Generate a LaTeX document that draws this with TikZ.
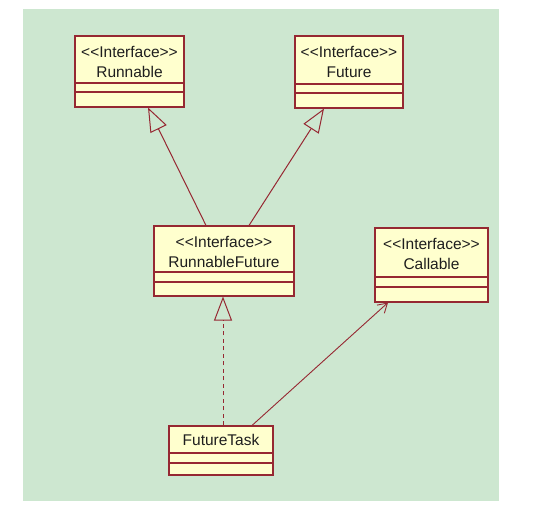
\documentclass[tikz,border=0pt]{standalone}
\usepackage{fontspec}
\setmainfont{Liberation Sans}
\usetikzlibrary{arrows.meta}
\definecolor{bggreen}{RGB}{205,231,208}
\definecolor{boxfill}{RGB}{255,255,206}
\definecolor{boxline}{RGB}{150,40,50}
\definecolor{txt}{RGB}{30,30,30}
\newcommand{\stereo}{{<}{<}Interface{>}{>}}
\tikzset{
  umlbox/.style={draw=boxline, fill=boxfill, line width=1.1pt, inner sep=0pt},
  divider/.style={draw=boxline, line width=1.1pt},
  lbl/.style={inner sep=0pt, text=txt, font=\fontsize{15.5}{18}\selectfont},
  realize/.style={draw=boxline, line width=1pt, -{Triangle[open, length=24pt, width=18pt, line width=1pt]}},
  depend/.style={draw=boxline, line width=0.9pt, -{Straight Barb[length=9pt, width=11pt, line width=0.9pt]}},
  dashline/.style={dash pattern=on 4pt off 3.5pt}
}
\begin{document}
\begin{tikzpicture}[x=1pt, y=-1pt]
\useasboundingbox (0,0) rectangle (540,515);
\fill[white] (0,0) rectangle (540,515);
\fill[bggreen] (23,9) rectangle (499,501);

% Runnable
\node[umlbox, minimum width=109pt, minimum height=71pt] (run) at (129.5,71.5) {};
\draw[divider] (run.west |- 0,83) -- (run.east |- 0,83);
\draw[divider] (run.west |- 0,92) -- (run.east |- 0,92);
\node[lbl] (runS) at (129.5,52) {\stereo};
\node[lbl] (runN) at (129.5,72) {Runnable};

% Future
\node[umlbox, minimum width=108pt, minimum height=72pt] (fut) at (349,72) {};
\draw[divider] (fut.west |- 0,84) -- (fut.east |- 0,84);
\draw[divider] (fut.west |- 0,93) -- (fut.east |- 0,93);
\node[lbl] (futS) at (349,52) {\stereo};
\node[lbl] (futN) at (349,72) {Future};

% RunnableFuture
\node[umlbox, minimum width=140pt, minimum height=70pt] (rf) at (224,261) {};
\draw[divider] (rf.west |- 0,272) -- (rf.east |- 0,272);
\draw[divider] (rf.west |- 0,282) -- (rf.east |- 0,282);
\node[lbl] (rfS) at (224,242) {\stereo};
\node[lbl] (rfN) at (224,262) {RunnableFuture};

% Callable
\node[umlbox, minimum width=113pt, minimum height=74pt] (call) at (431.5,265) {};
\draw[divider] (call.west |- 0,277) -- (call.east |- 0,277);
\draw[divider] (call.west |- 0,287) -- (call.east |- 0,287);
\node[lbl] (callS) at (431.5,244) {\stereo};
\node[lbl] (callN) at (431.5,264) {Callable};

% FutureTask
\node[umlbox, minimum width=104pt, minimum height=49pt] (ft) at (221,450.5) {};
\draw[divider] (ft.west |- 0,453) -- (ft.east |- 0,453);
\draw[divider] (ft.west |- 0,463) -- (ft.east |- 0,463);
\node[lbl] (ftN) at (221,440) {FutureTask};

% connectors
\draw[realize] (rf.north -| 206,0) -- (run.south -| 148,0);
\draw[realize] (rf.north -| 249,0) -- (fut.south -| 324,0);
\draw[realize, dashline] (ft.north -| 223,0) -- (rf.south -| 223,0);
\draw[depend] (ft.north -| 252,0) -- (call.south -| 388,0);
\end{tikzpicture}
\end{document}
